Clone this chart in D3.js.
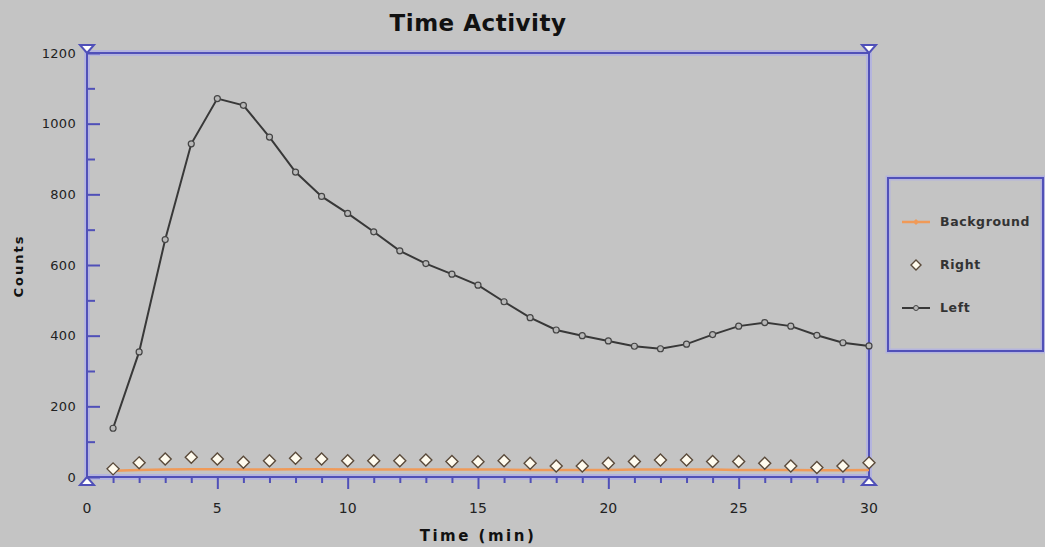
<!DOCTYPE html>
<html><head><meta charset="utf-8">
<script src="https://cdn.jsdelivr.net/npm/d3@7"></script>
<style>
html,body{margin:0;padding:0;background:#c4c4c4;}
svg{display:block;font-family:"DejaVu Sans",sans-serif;}
</style></head>
<body><svg id="chart" width="1045" height="547"></svg>
<script>
const times = d3.range(1, 31);
const leftCounts = [138,354,672,943,1071,1052,962,863,794,746,694,640,604,574,543,496,451,416,400,385,370,363,376,403,427,437,427,401,380,371];
const rightCounts = [23,40,51,56,51,42,46,53,51,46,46,46,48,44,43,46,39,31,31,39,44,48,48,44,44,39,31,27,31,40];
const backgroundCounts = [18,20,21,22,22,21,21,22,22,21,21,21,21,21,21,21,20,20,20,20,21,21,21,21,20,20,20,19,19,20];
const xTicks = [0,5,10,15,20,25,30];
const yTicks = [0,200,400,600,800,1000,1200];
const legendNames = ["Background","Right","Left"];

const svg = d3.select("#chart");
const M = {l:87, r:869, t:53, b:477};
const x = d3.scaleLinear().domain([0,30]).range([M.l, M.r]);
const y = d3.scaleLinear().domain([0,1200]).range([M.b, M.t]);
const blue = "#5050b8", halo = "#b4b4de";
const orange = "#f09a58";

// frame halo and frame
const frame = svg.append("g");
frame.append("rect").attr("x",M.l).attr("y",M.t).attr("width",M.r-M.l).attr("height",M.b-M.t)
  .attr("fill","none").attr("stroke",halo).attr("stroke-width",6);
frame.append("rect").attr("x",M.l).attr("y",M.t).attr("width",M.r-M.l).attr("height",M.b-M.t)
  .attr("fill","none").attr("stroke",blue).attr("stroke-width",2);

// y axis ticks (inward)
const yAxis = d3.axisRight(y).tickValues(d3.range(0,1201,100)).tickSize(0).tickFormat("");
const gy = svg.append("g").attr("transform",`translate(${M.l},0)`).call(yAxis);
gy.select(".domain").remove();
gy.selectAll(".tick line").attr("x2", d => d%200===0 ? 13 : 8).attr("stroke",blue).attr("stroke-width",2);
yTicks.forEach(v => {
  svg.append("text").attr("x",76).attr("y",y(v)).attr("dy","0.35em").attr("text-anchor","end")
    .attr("font-size",13).attr("fill","#222").attr("letter-spacing",0.3).text(v);
});

// x axis ticks (downward)
const xAxis = d3.axisBottom(x).tickValues(d3.range(1,30)).tickSize(0).tickFormat("");
const gx = svg.append("g").attr("transform",`translate(0,${M.b})`).call(xAxis);
gx.select(".domain").remove();
gx.selectAll(".tick line").attr("y2", d => d%5===0 ? 12 : 6).attr("stroke",blue).attr("stroke-width",2);
xTicks.forEach(v => {
  svg.append("text").attr("x",x(v)).attr("y",513).attr("text-anchor","middle")
    .attr("font-size",14).attr("fill","#222").text(v);
});

// corner triangles
function tri(cx, cy, down){
  const w=7, h=8;
  const p = down ? [[cx-w,cy-h],[cx+w,cy-h],[cx,cy]] : [[cx-w,cy+h],[cx+w,cy+h],[cx,cy]];
  svg.append("path").attr("d", d3.line()(p)+"Z").attr("fill","#ffffff").attr("stroke",blue).attr("stroke-width",2);
}
tri(x(0), y(1200), true); tri(x(30), y(1200), true);
tri(x(0), y(0), false); tri(x(30), y(0), false);

// background series
svg.append("path").datum(backgroundCounts)
  .attr("d", d3.line().x((d,i)=>x(times[i])).y(d=>y(d)))
  .attr("fill","none").attr("stroke",orange).attr("stroke-width",2.5);

// right series diamonds
svg.append("g").selectAll("path").data(rightCounts).join("path")
  .attr("transform",(d,i)=>`translate(${x(times[i])},${y(d)})`)
  .attr("d","M0,-6L6,0L0,6L-6,0Z")
  .attr("fill","#fffbee").attr("stroke","#5a4a3a").attr("stroke-width",1.4);

// left series
svg.append("path").datum(leftCounts)
  .attr("d", d3.line().x((d,i)=>x(times[i])).y(d=>y(d)))
  .attr("fill","none").attr("stroke","#383838").attr("stroke-width",2);
svg.append("g").selectAll("circle").data(leftCounts).join("circle")
  .attr("cx",(d,i)=>x(times[i])).attr("cy",d=>y(d)).attr("r",3)
  .attr("fill","#b8b8b8").attr("stroke","#444").attr("stroke-width",1.2);

// titles
svg.append("text").attr("x",478).attr("y",31).attr("text-anchor","middle")
  .attr("font-size",23).attr("font-weight","bold").attr("fill","#111").attr("letter-spacing",0.5).text("Time Activity");
svg.append("text").attr("transform","translate(23,266) rotate(-90)").attr("text-anchor","middle")
  .attr("font-size",13).attr("font-weight","bold").attr("fill","#111").attr("letter-spacing",2).text("Counts");
svg.append("text").attr("x",478).attr("y",541).attr("text-anchor","middle")
  .attr("font-size",15).attr("font-weight","bold").attr("fill","#111").attr("letter-spacing",2.5).text("Time (min)");

// legend
const L = {x:888, y:178, w:155, h:173};
svg.append("rect").attr("x",L.x).attr("y",L.y).attr("width",L.w).attr("height",L.h)
  .attr("fill","none").attr("stroke",halo).attr("stroke-width",5);
svg.append("rect").attr("x",L.x).attr("y",L.y).attr("width",L.w).attr("height",L.h)
  .attr("fill","none").attr("stroke",blue).attr("stroke-width",2);
const ly = d3.scalePoint().domain(legendNames).range([222,308]);
const lg = svg.append("g");
legendNames.forEach(n => {
  const yy = ly(n);
  if (n==="Background"){
    lg.append("line").attr("x1",902).attr("x2",930).attr("y1",yy).attr("y2",yy).attr("stroke",orange).attr("stroke-width",2.5);
    lg.append("path").attr("transform",`translate(916,${yy})`).attr("d","M0,-3L3,0L0,3L-3,0Z").attr("fill",orange);
  } else if (n==="Right"){
    lg.append("path").attr("transform",`translate(916,${yy})`).attr("d","M0,-5L5,0L0,5L-5,0Z")
      .attr("fill","#fffbee").attr("stroke","#5a4a3a").attr("stroke-width",1.4);
  } else {
    lg.append("line").attr("x1",902).attr("x2",930).attr("y1",yy).attr("y2",yy).attr("stroke","#383838").attr("stroke-width",2);
    lg.append("circle").attr("cx",916).attr("cy",yy).attr("r",2.5).attr("fill","#b8b8b8").attr("stroke","#444");
  }
  lg.append("text").attr("x",940).attr("y",yy).attr("dy","0.35em").attr("font-size",12.5)
    .attr("font-weight","bold").attr("fill","#333").attr("letter-spacing",0.6).text(n);
});
</script>
</body></html>
